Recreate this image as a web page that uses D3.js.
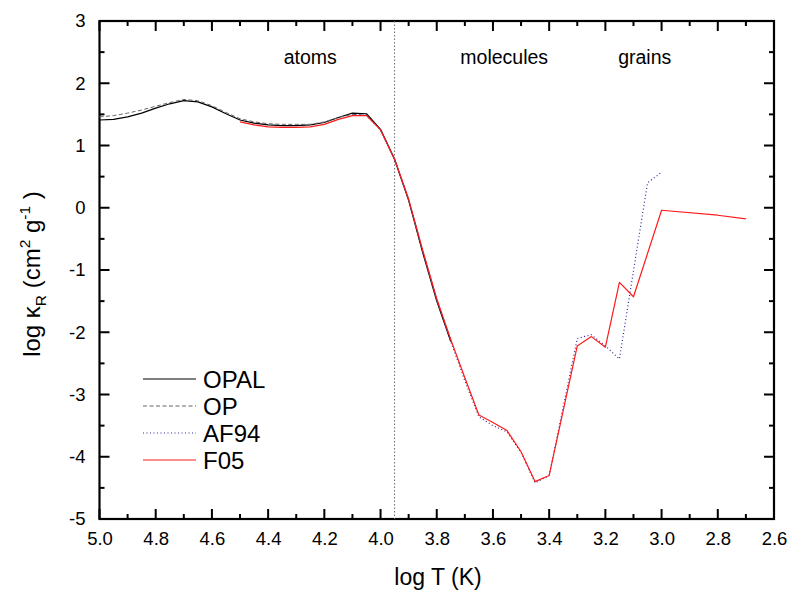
<!DOCTYPE html>
<html>
<head>
<meta charset="utf-8">
<script src="https://cdn.jsdelivr.net/npm/d3@7"></script>
<style>
  body { margin: 0; background: #fff; }
  text { font-family: "Liberation Sans", Arial, sans-serif; fill: #000; }
</style>
</head>
<body>
<div id="chart"></div>
<script>
// Data: log T (x) and log kappa_R (y) for each table
const opalT = [5.00, 4.95, 4.90, 4.85, 4.80, 4.75, 4.70, 4.65, 4.60, 4.55, 4.50, 4.45, 4.40, 4.35, 4.30, 4.25, 4.20, 4.15, 4.10, 4.05, 4.00, 3.95, 3.90, 3.85, 3.80, 3.75];
const opalK = [1.41, 1.42, 1.46, 1.52, 1.60, 1.67, 1.72, 1.70, 1.62, 1.51, 1.41, 1.36, 1.33, 1.32, 1.32, 1.33, 1.37, 1.45, 1.52, 1.51, 1.26, 0.78, 0.12, -0.72, -1.50, -2.15];

const opT = [5.00, 4.95, 4.90, 4.85, 4.80, 4.75, 4.70, 4.65, 4.60, 4.55, 4.50, 4.45, 4.40, 4.35, 4.30, 4.25, 4.20, 4.15, 4.10, 4.05, 4.00, 3.95, 3.90, 3.85, 3.80, 3.75];
const opK = [1.46, 1.48, 1.52, 1.57, 1.63, 1.69, 1.74, 1.72, 1.64, 1.53, 1.43, 1.38, 1.35, 1.34, 1.34, 1.34, 1.38, 1.45, 1.50, 1.49, 1.25, 0.77, 0.12, -0.70, -1.48, -2.12];

const af94T = [4.10, 4.05, 4.00, 3.95, 3.90, 3.85, 3.80, 3.75, 3.70, 3.65, 3.60, 3.55, 3.50, 3.45, 3.40, 3.30, 3.25, 3.20, 3.15, 3.05, 3.00];
const af94K = [1.49, 1.49, 1.25, 0.78, 0.13, -0.70, -1.48, -2.15, -2.78, -3.36, -3.50, -3.60, -3.93, -4.42, -4.30, -2.10, -2.04, -2.22, -2.43, 0.40, 0.57];

const f05T = [4.50, 4.45, 4.40, 4.35, 4.30, 4.25, 4.20, 4.15, 4.10, 4.05, 4.00, 3.95, 3.90, 3.85, 3.80, 3.75, 3.70, 3.65, 3.60, 3.55, 3.50, 3.45, 3.40, 3.30, 3.25, 3.20, 3.15, 3.10, 3.00, 2.80, 2.70];
const f05K = [1.38, 1.33, 1.30, 1.29, 1.29, 1.30, 1.34, 1.42, 1.48, 1.48, 1.25, 0.78, 0.14, -0.68, -1.46, -2.12, -2.73, -3.33, -3.45, -3.58, -3.92, -4.40, -4.30, -2.22, -2.07, -2.24, -1.20, -1.43, -0.04, -0.12, -0.18];

const xTicks = [5.0, 4.8, 4.6, 4.4, 4.2, 4.0, 3.8, 3.6, 3.4, 3.2, 3.0, 2.8, 2.6];
const yTicks = [3, 2, 1, 0, -1, -2, -3, -4, -5];
const regionNames = ["atoms", "molecules", "grains"];
const regionT = [4.25, 3.56, 3.06];
const boundaryT = 3.95;

const series = [
  { name: "OPAL", x: opalT, y: opalK, color: "#000", dash: null, width: 1.2 },
  { name: "OP", x: opT, y: opK, color: "#666", dash: "4,2.5", width: 1 },
  { name: "AF94", x: af94T, y: af94K, color: "#2a2aa0", dash: "1,2.5", width: 1.2 },
  { name: "F05", x: f05T, y: f05K, color: "#ff1a1a", dash: null, width: 1.2 }
];

const W = 789, H = 592;
const m = { left: 99.5, right: 774, top: 21, bottom: 519 };

const svg = d3.select("#chart").append("svg")
  .attr("width", W).attr("height", H);

const x = d3.scaleLinear().domain([5.0, 2.6]).range([m.left, m.right]);
const y = d3.scaleLinear().domain([-5, 3]).range([m.bottom, m.top]);

const plotH = m.bottom - m.top, plotW = m.right - m.left;

const minorX = d3.range(49, 26, -2).map(d => d / 10);
const minorY = d3.range(-45, 30, 10).map(d => d / 10);
const fmtX = d => d.toFixed(1);
const fmtY = d => String(d);

// tick labels via d3 axes
const gb = svg.append("g").attr("transform", `translate(0,${m.bottom})`)
  .call(d3.axisBottom(x).tickValues(xTicks).tickSize(0).tickPadding(13).tickFormat(fmtX));
gb.select(".domain").remove();
gb.selectAll("text").attr("font-size", 18.5).attr("font-family", "Liberation Sans, Arial");

const gl = svg.append("g").attr("transform", `translate(${m.left},0)`)
  .call(d3.axisLeft(y).tickValues(yTicks).tickSize(0).tickPadding(14).tickFormat(fmtY));
gl.select(".domain").remove();
gl.selectAll("text").attr("font-size", 18.5).attr("font-family", "Liberation Sans, Arial");

// frame
svg.append("rect")
  .attr("x", m.left).attr("y", m.top)
  .attr("width", plotW).attr("height", plotH)
  .attr("fill", "none").attr("stroke", "#000").attr("stroke-width", 2.2);

// inward ticks on all four sides
function xTickMarks(vals, len) {
  vals.forEach(v => {
    svg.append("line").attr("x1", x(v)).attr("x2", x(v)).attr("y1", m.bottom).attr("y2", m.bottom - len)
      .attr("stroke", "#000").attr("stroke-width", 2);
    svg.append("line").attr("x1", x(v)).attr("x2", x(v)).attr("y1", m.top).attr("y2", m.top + len)
      .attr("stroke", "#000").attr("stroke-width", 2);
  });
}
function yTickMarks(vals, len) {
  vals.forEach(v => {
    svg.append("line").attr("y1", y(v)).attr("y2", y(v)).attr("x1", m.left).attr("x2", m.left + len)
      .attr("stroke", "#000").attr("stroke-width", 2);
    svg.append("line").attr("y1", y(v)).attr("y2", y(v)).attr("x1", m.right).attr("x2", m.right - len)
      .attr("stroke", "#000").attr("stroke-width", 2);
  });
}
xTickMarks(xTicks, 10);
xTickMarks(minorX, 5);
yTickMarks(yTicks, 10);
yTickMarks(minorY, 5);

// boundary line atoms/molecules
svg.append("line")
  .attr("x1", x(boundaryT)).attr("x2", x(boundaryT))
  .attr("y1", m.top).attr("y2", m.bottom)
  .attr("stroke", "#666").attr("stroke-width", 1).attr("stroke-dasharray", "1.5,2");

// region labels
svg.selectAll(".region").data(regionNames).enter().append("text")
  .attr("x", (d, i) => x(regionT[i])).attr("y", 64)
  .attr("text-anchor", "middle").attr("font-size", 19.5)
  .text(d => d);

// curves
const line = d3.line().x(d => x(d[0])).y(d => y(d[1]));
series.forEach(s => {
  svg.append("path")
    .datum(s.x.map((v, i) => [v, s.y[i]]))
    .attr("d", line)
    .attr("fill", "none")
    .attr("stroke", s.color)
    .attr("stroke-width", s.width)
    .attr("stroke-dasharray", s.dash)
    .attr("stroke-linejoin", "round");
});

// legend
const leg = svg.append("g");
series.forEach((s, i) => {
  const ly = 379 + i * 27;
  leg.append("line")
    .attr("x1", 143).attr("x2", 196).attr("y1", ly).attr("y2", ly)
    .attr("stroke", s.color).attr("stroke-width", s.width)
    .attr("stroke-dasharray", s.dash);
  leg.append("text")
    .attr("x", 203).attr("y", ly + 8.5)
    .attr("font-size", 24)
    .text(s.name);
});

// axis titles
svg.append("text")
  .attr("x", 438).attr("y", 585)
  .attr("text-anchor", "middle").attr("font-size", 23)
  .text("log T (K)");

const yt = svg.append("text")
  .attr("transform", `translate(40,${274}) rotate(-90)`)
  .attr("text-anchor", "middle").attr("font-size", 24);
yt.append("tspan").text("log \u03BA");
yt.append("tspan").attr("font-size", 15.5).attr("dy", 6).text("R");
yt.append("tspan").attr("dy", -6).text(" (cm");
yt.append("tspan").attr("font-size", 15.5).attr("dy", -10).text("2");
yt.append("tspan").attr("dy", 10).text(" g");
yt.append("tspan").attr("font-size", 15.5).attr("dy", -10).text("-1");
yt.append("tspan").attr("dy", 10).text(" )");
</script>
</body>
</html>
